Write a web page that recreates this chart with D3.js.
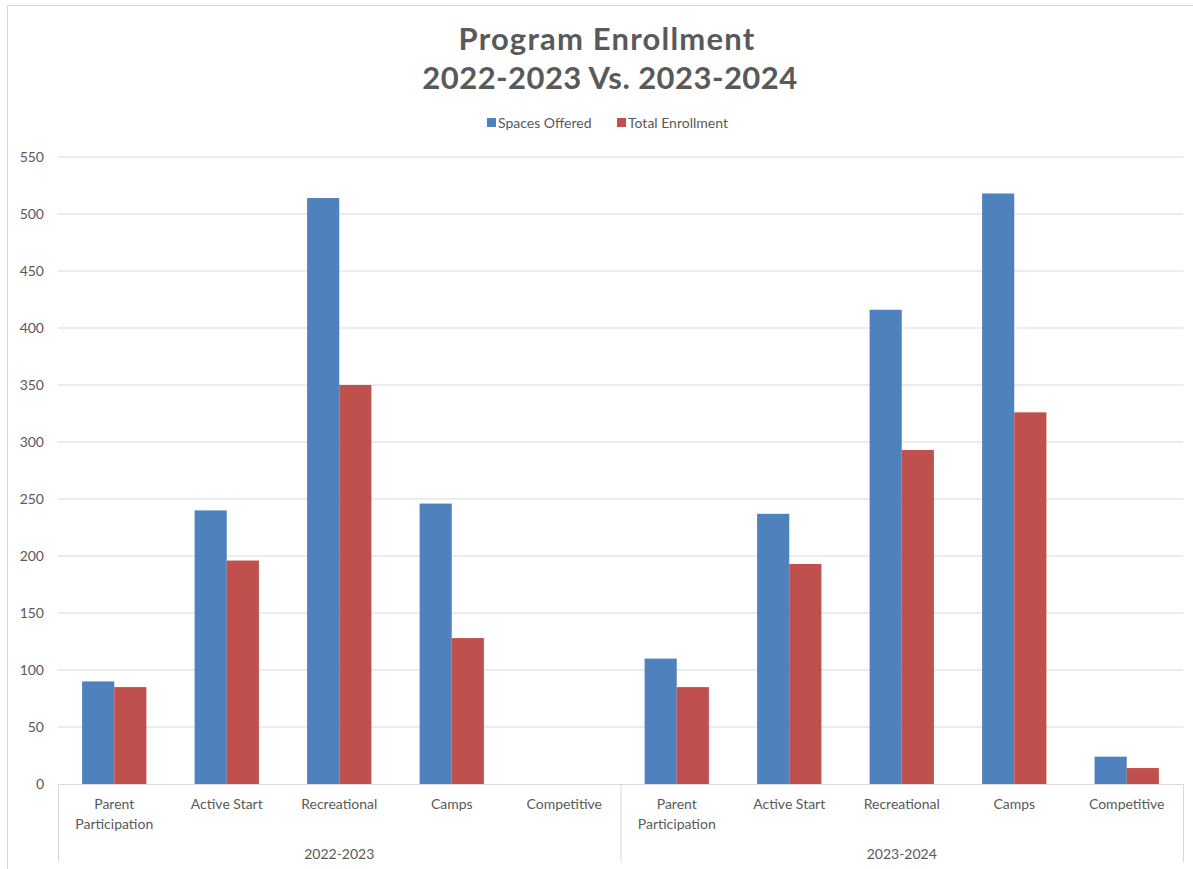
<!DOCTYPE html>
<html>
<head>
<meta charset="utf-8">
<script src="https://cdn.jsdelivr.net/npm/d3@7"></script>
<style>
  body { margin: 0; background: #fff; }
  text { font-family: "Lato", "Open Sans", sans-serif; }
</style>
</head>
<body>
<div id="chart"></div>
<script>
// Chart data
const groups = ["2022-2023", "2023-2024"];
const programs = ["Parent Participation", "Active Start", "Recreational", "Camps", "Competitive"];
const spacesOffered = [90, 240, 514, 246, 0, 110, 237, 416, 518, 24];
const totalEnrollment = [85, 196, 350, 128, 0, 85, 193, 293, 326, 14];
const yTicks = [0, 50, 100, 150, 200, 250, 300, 350, 400, 450, 500, 550];
const seriesNames = ["Spaces Offered", "Total Enrollment"];
const seriesColors = ["#4f81bd", "#c0504d"];

// Build one row per category (group + program)
const data = [];
groups.forEach((g, gi) => {
    programs.forEach((p, pi) => {
        const i = gi * programs.length + pi;
        data.push({key: g + "|" + p, group: g, program: p, values: [spacesOffered[i], totalEnrollment[i]]});
    });
});

const W = 1193, H = 869;
const margin = {top: 157, right: 10, bottom: 85, left: 58};
const width = 1183 - margin.left;
const height = 784 - margin.top;

const svg = d3.select("#chart")
    .append("svg")
    .attr("width", W)
    .attr("height", H);

// Chart border (only top and left edges are visible in the picture)
svg.append("rect")
    .attr("x", 7.5).attr("y", 5.5)
    .attr("width", W + 10).attr("height", H + 10)
    .attr("fill", "none")
    .attr("stroke", "#d9d9d9");

const g = svg.append("g")
    .attr("transform", `translate(${margin.left}, ${margin.top})`);

// Scales
const x = d3.scaleBand()
    .domain(data.map(d => d.key))
    .range([0, width])
    .paddingInner(0.4285)
    .paddingOuter(0.2143);

const xSub = d3.scaleBand()
    .domain([0, 1])
    .range([0, x.bandwidth()]);

const y = d3.scaleLinear()
    .domain([0, 550])
    .range([height, 0]);

// Gridlines
g.append("g")
    .selectAll("line")
    .data(yTicks.filter(t => t > 0))
    .enter()
    .append("line")
    .attr("x1", 0).attr("x2", width)
    .attr("y1", d => y(d)).attr("y2", d => y(d))
    .attr("stroke", "#d9d9d9")
    .attr("stroke-width", 1);

// Y axis labels
const yAxis = g.append("g")
    .call(d3.axisLeft(y).tickValues(yTicks).tickSize(0).tickPadding(14));
yAxis.select(".domain").remove();
yAxis.selectAll("text")
    .style("font-size", "14px")
    .attr("fill", "#595959");

// Bars
const cat = g.selectAll(".cat")
    .data(data)
    .enter()
    .append("g")
    .attr("class", "cat")
    .attr("transform", d => `translate(${x(d.key)}, 0)`);

cat.selectAll("rect")
    .data(d => d.values.map((v, i) => ({v, i})))
    .enter()
    .append("rect")
    .attr("x", d => xSub(d.i))
    .attr("y", d => y(d.v))
    .attr("width", xSub.bandwidth())
    .attr("height", d => height - y(d.v))
    .attr("fill", d => seriesColors[d.i]);

// X axis baseline
g.append("line")
    .attr("x1", 0).attr("x2", width)
    .attr("y1", height + 0.5).attr("y2", height + 0.5)
    .attr("stroke", "#d9d9d9");

// Group separators
const step = width / data.length;
[0, programs.length, data.length].forEach(i => {
    g.append("line")
        .attr("x1", i * step + 0.5).attr("x2", i * step + 0.5)
        .attr("y1", height).attr("y2", height + 78)
        .attr("stroke", "#d9d9d9");
});

// Category labels (wrapped on two lines where needed)
data.forEach((d, i) => {
    const cx = x(d.key) + x.bandwidth() / 2;
    const words = d.program === "Parent Participation" ? ["Parent", "Participation"] : [d.program];
    const t = g.append("text")
        .attr("text-anchor", "middle")
        .attr("fill", "#595959")
        .style("font-size", "14px");
    words.forEach((w, wi) => {
        t.append("tspan")
            .attr("x", cx)
            .attr("y", height + 25 + wi * 20)
            .text(w);
    });
});

// Group labels
groups.forEach((grp, gi) => {
    g.append("text")
        .attr("x", (gi * programs.length + programs.length / 2) * step)
        .attr("y", height + 75)
        .attr("text-anchor", "middle")
        .attr("fill", "#595959")
        .style("font-size", "14px")
        .text(grp);
});

// Title (letter spacing widens Lato toward the wider original face)
svg.append("text")
    .attr("x", 607).attr("y", 50)
    .attr("text-anchor", "middle")
    .attr("fill", "#595959")
    .style("font-size", "31px")
    .style("font-weight", 700)
    .style("letter-spacing", "1.2px")
    .text("Program Enrollment");

svg.append("text")
    .attr("x", 610).attr("y", 89)
    .attr("text-anchor", "middle")
    .attr("fill", "#595959")
    .style("font-size", "31px")
    .style("font-weight", 700)
    .style("letter-spacing", "0.45px")
    .text("2022-2023 Vs. 2023-2024");

// Legend
const legendX = [487, 617];
seriesNames.forEach((s, i) => {
    svg.append("rect")
        .attr("x", legendX[i]).attr("y", 118)
        .attr("width", 9).attr("height", 9)
        .attr("fill", seriesColors[i]);
    svg.append("text")
        .attr("x", legendX[i] + 11).attr("y", 128)
        .attr("fill", "#595959")
        .style("font-size", "14px")
        .text(s);
});
</script>
</body>
</html>
